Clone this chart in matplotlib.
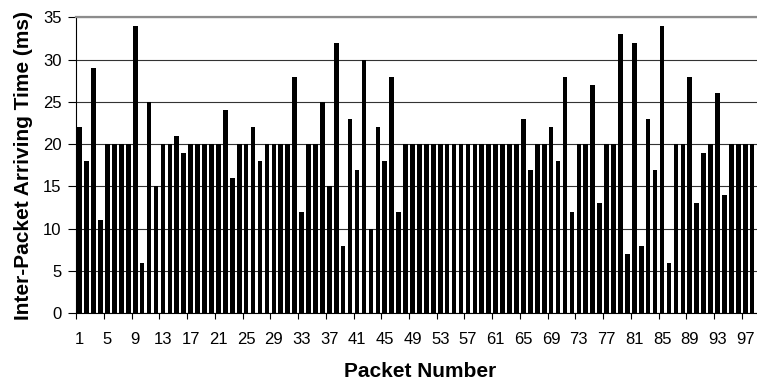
import matplotlib
matplotlib.use("Agg")
import matplotlib.pyplot as plt
import numpy as np


# inter-packet arriving time (ms) per packet
packets = list(range(1, 99))
gap_ms = [22, 18, 29, 11, 20, 20, 20, 20, 34, 6,
          25, 15, 20, 20, 21, 19, 20, 20, 20, 20,
          20, 24, 16, 20, 20, 22, 18, 20, 20, 20,
          20, 28, 12, 20, 20, 25, 15, 32, 8, 23,
          17, 30, 10, 22, 18, 28, 12, 20, 20, 20,
          20, 20, 20, 20, 20, 20, 20, 20, 20, 20,
          20, 20, 20, 20, 23, 17, 20, 20, 22, 18,
          28, 12, 20, 20, 27, 13, 20, 20, 33, 7,
          32, 8, 23, 17, 34, 6, 20, 20, 28, 13,
          19, 20, 26, 14, 20, 20, 20, 20]
y_ticks = [0, 5, 10, 15, 20, 25, 30, 35]
x_label_every = 4

plt.rcParams['font.family'] = ['Liberation Sans', 'DejaVu Sans']

fig = plt.figure(figsize=(7.57, 3.85), dpi=100)
ax = fig.add_axes([0.1008, 0.1862, 0.8992, 0.7688])

ax.bar(packets, gap_ms, width=0.67, color='black', zorder=3)

ax.set_xlim(0.5, 98.7)
ax.set_ylim(0, 35)

# horizontal gridlines
ax.set_yticks(y_ticks)
ax.yaxis.grid(True, color='#333333', linewidth=0.8, zorder=0)
ax.tick_params(axis='y', direction='out', length=6, width=0.8, labelsize=12, pad=4.5)

# x labels under every 4th bar, tick marks between categories
lbl_pos = packets[::x_label_every]
ax.set_xticks(lbl_pos)
ax.set_xticklabels([str(p) for p in lbl_pos])
ax.set_xticks([p - 0.5 for p in lbl_pos], minor=True)
ax.tick_params(axis='x', which='major', length=0, labelsize=12, pad=13.5)
ax.tick_params(axis='x', which='minor', direction='out', length=4.5, width=0.8)

ax.spines['right'].set_visible(False)
ax.spines['top'].set_color('#8c8c8c')
ax.spines['top'].set_linewidth(1.6)
ax.spines['left'].set_linewidth(0.8)
ax.spines['bottom'].set_linewidth(0.8)

ax.set_ylabel('Inter-Packet Arriving Time (ms)', fontsize=15, fontweight='bold')
ax.yaxis.set_label_coords(-0.063, 0.5)
ax.set_xlabel('Packet Number', fontsize=15, fontweight='bold')
ax.xaxis.set_label_coords(0.505, -0.163)

fig.savefig('out.png', dpi=100)
